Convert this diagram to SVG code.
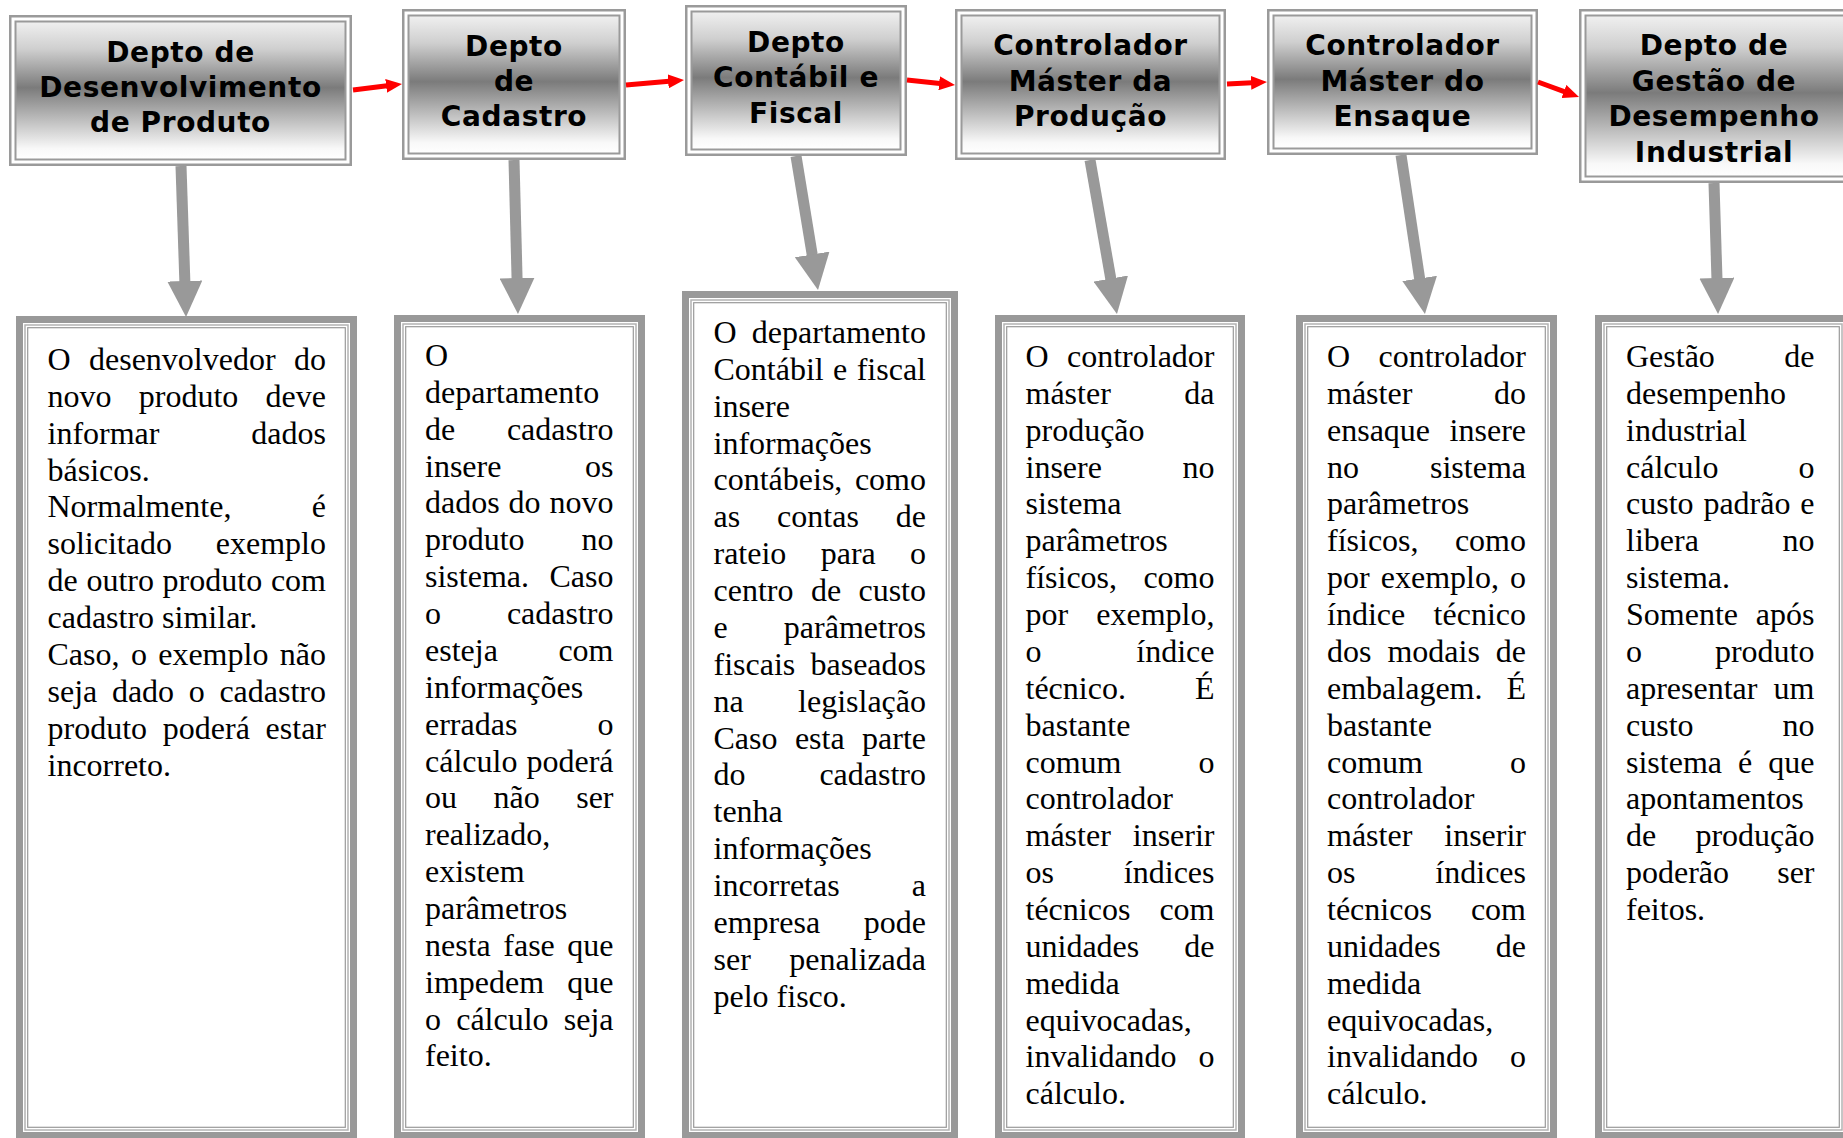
<svg xmlns="http://www.w3.org/2000/svg" width="1843" height="1138" viewBox="0 0 1843 1138">
  <defs>
    <linearGradient id="hdrFill" x1="0" y1="0" x2="0" y2="1">
      <stop offset="0" stop-color="#f0f0f0"/>
      <stop offset="0.2" stop-color="#cfcfcf"/>
      <stop offset="0.48" stop-color="#7b7b7b"/>
      <stop offset="0.75" stop-color="#c8c8c8"/>
      <stop offset="0.92" stop-color="#f8f8f8"/>
      <stop offset="1" stop-color="#ffffff"/>
    </linearGradient>
    <marker id="redHead" markerUnits="userSpaceOnUse" markerWidth="16" markerHeight="14" refX="1" refY="7" orient="auto" viewBox="0 0 16 14">
      <path d="M0,0 L16,7 L0,14 z" fill="#ff0000"/>
    </marker>
    <marker id="greyHead" markerUnits="userSpaceOnUse" markerWidth="36" markerHeight="35" refX="2" refY="17.5" orient="auto" viewBox="0 0 36 35">
      <path d="M0,0 L36,17.5 L0,35 z" fill="#999999"/>
    </marker>
  </defs>
  <style>
    .hOut { fill: #ffffff; stroke: #9a9a9a; stroke-width: 2.5; }
    .hIn { fill: url(#hdrFill); stroke: #9a9a9a; stroke-width: 2; }
    .hTxt { font-family: "DejaVu Sans", Verdana, sans-serif; font-weight: bold; font-size: 28px; letter-spacing: 0.6px; fill: #000; text-anchor: middle; }
    .bOut { fill: #ffffff; stroke: #999999; stroke-width: 7; }
    .bMid { fill: none; stroke: #b3b3b3; stroke-width: 1.5; }
    .bIn { fill: none; stroke: #999999; stroke-width: 1.2; }
    .body { font-family: "Liberation Serif", "Times New Roman", serif; font-size: 32px; fill: #000; }
    .e { text-anchor: end; }
    .red { stroke: #ff0000; stroke-width: 5; fill: none; marker-end: url(#redHead); }
    .grey { stroke: #999999; stroke-width: 11; fill: none; marker-end: url(#greyHead); }
  </style>
  <rect width="1843" height="1138" fill="#ffffff"/>

  <!-- department header boxes -->
  <g id="h1">
    <rect class="hOut" x="10.25" y="16.25" width="340.5" height="148.5"/>
    <rect class="hIn" x="15.5" y="21.5" width="330" height="138"/>
    <text class="hTxt" x="180.5" y="61.5">Depto de</text>
    <text class="hTxt" x="180.5" y="96.5">Desenvolvimento</text>
    <text class="hTxt" x="180.5" y="131.5">de Produto</text>
  </g>
  <g id="h2">
    <rect class="hOut" x="403.25" y="10.25" width="221.5" height="148.5"/>
    <rect class="hIn" x="408.5" y="15.5" width="211" height="138"/>
    <text class="hTxt" x="514" y="56">Depto</text>
    <text class="hTxt" x="514" y="91">de</text>
    <text class="hTxt" x="514" y="126">Cadastro</text>
  </g>
  <g id="h3">
    <rect class="hOut" x="686.25" y="6.25" width="219.5" height="148.5"/>
    <rect class="hIn" x="691.5" y="11.5" width="209" height="138"/>
    <text class="hTxt" x="796" y="51.5">Depto</text>
    <text class="hTxt" x="796" y="87">Contábil e</text>
    <text class="hTxt" x="796" y="122.5">Fiscal</text>
  </g>
  <g id="h4">
    <rect class="hOut" x="956.25" y="10.25" width="268.5" height="148.5"/>
    <rect class="hIn" x="961.5" y="15.5" width="258" height="138"/>
    <text class="hTxt" x="1090.5" y="55">Controlador</text>
    <text class="hTxt" x="1090.5" y="91">Máster da</text>
    <text class="hTxt" x="1090.5" y="126">Produção</text>
  </g>
  <g id="h5">
    <rect class="hOut" x="1268.25" y="10.25" width="268.5" height="143.5"/>
    <rect class="hIn" x="1273.5" y="15.5" width="258" height="133"/>
    <text class="hTxt" x="1402.5" y="55">Controlador</text>
    <text class="hTxt" x="1402.5" y="91">Máster do</text>
    <text class="hTxt" x="1402.5" y="126">Ensaque</text>
  </g>
  <g id="h6">
    <rect class="hOut" x="1580.25" y="10.25" width="269.5" height="171.5"/>
    <rect class="hIn" x="1585.5" y="15.5" width="259" height="161"/>
    <text class="hTxt" x="1714" y="55">Depto de</text>
    <text class="hTxt" x="1714" y="91">Gestão de</text>
    <text class="hTxt" x="1714" y="126">Desempenho</text>
    <text class="hTxt" x="1714" y="161.5">Industrial</text>
  </g>

  <!-- description boxes -->
  <g id="t1">
    <rect class="bOut" x="19.5" y="319.5" width="334" height="816"/>
    <rect class="bMid" x="25" y="325" width="323" height="805"/>
    <rect class="bIn" x="27.7" y="327.7" width="317.6" height="799.6"/>
    <g class="body">
      <text y="370"><tspan x="47.5">O</tspan><tspan x="89">desenvolvedor</tspan><tspan class="e" x="326">do</tspan></text>
      <text y="406.9"><tspan x="47.5">novo</tspan><tspan x="138.8">produto</tspan><tspan class="e" x="326">deve</tspan></text>
      <text y="443.7"><tspan x="47.5">informar</tspan><tspan class="e" x="326">dados</tspan></text>
      <text y="480.6"><tspan x="47.5">básicos.</tspan></text>
      <text y="517.4"><tspan x="47.5">Normalmente,</tspan><tspan class="e" x="326">é</tspan></text>
      <text y="554.3"><tspan x="47.5">solicitado</tspan><tspan class="e" x="326">exemplo</tspan></text>
      <text y="591.2"><tspan x="47.5">de</tspan><tspan x="86.4">outro</tspan><tspan x="162.6">produto</tspan><tspan class="e" x="326">com</tspan></text>
      <text y="628"><tspan x="47.5">cadastro similar.</tspan></text>
      <text y="664.9"><tspan x="47.5">Caso,</tspan><tspan x="130.9">o</tspan><tspan x="158.2">exemplo</tspan><tspan class="e" x="326">não</tspan></text>
      <text y="701.7"><tspan x="47.5">seja</tspan><tspan x="111.9">dado</tspan><tspan x="188.7">o</tspan><tspan class="e" x="326">cadastro</tspan></text>
      <text y="738.6"><tspan x="47.5">produto</tspan><tspan x="162.8">poderá</tspan><tspan class="e" x="326">estar</tspan></text>
      <text y="775.5"><tspan x="47.5">incorreto.</tspan></text>
    </g>
  </g>
  <g id="t2">
    <rect class="bOut" x="397.5" y="318.5" width="244" height="817"/>
    <rect class="bMid" x="403" y="324" width="233" height="806"/>
    <rect class="bIn" x="405.7" y="326.7" width="227.6" height="800.6"/>
    <g class="body">
      <text y="366"><tspan x="425">O</tspan></text>
      <text y="402.9"><tspan x="425">departamento</tspan></text>
      <text y="439.7"><tspan x="425">de</tspan><tspan class="e" x="613.5">cadastro</tspan></text>
      <text y="476.6"><tspan x="425">insere</tspan><tspan class="e" x="613.5">os</tspan></text>
      <text y="513.4"><tspan x="425">dados</tspan><tspan x="508.6">do</tspan><tspan class="e" x="613.5">novo</tspan></text>
      <text y="550.3"><tspan x="425">produto</tspan><tspan class="e" x="613.5">no</tspan></text>
      <text y="587.2"><tspan x="425">sistema.</tspan><tspan class="e" x="613.5">Caso</tspan></text>
      <text y="624"><tspan x="425">o</tspan><tspan class="e" x="613.5">cadastro</tspan></text>
      <text y="660.9"><tspan x="425">esteja</tspan><tspan class="e" x="613.5">com</tspan></text>
      <text y="697.7"><tspan x="425">informações</tspan></text>
      <text y="734.6"><tspan x="425">erradas</tspan><tspan class="e" x="613.5">o</tspan></text>
      <text y="771.5"><tspan x="425">cálculo</tspan><tspan class="e" x="613.5">poderá</tspan></text>
      <text y="808.3"><tspan x="425">ou</tspan><tspan x="493.5">não</tspan><tspan class="e" x="613.5">ser</tspan></text>
      <text y="845.2"><tspan x="425">realizado,</tspan></text>
      <text y="882"><tspan x="425">existem</tspan></text>
      <text y="918.9"><tspan x="425">parâmetros</tspan></text>
      <text y="955.8"><tspan x="425">nesta</tspan><tspan x="503.3">fase</tspan><tspan class="e" x="613.5">que</tspan></text>
      <text y="992.6"><tspan x="425">impedem</tspan><tspan class="e" x="613.5">que</tspan></text>
      <text y="1029.5"><tspan x="425">o</tspan><tspan x="456.2">cálculo</tspan><tspan class="e" x="613.5">seja</tspan></text>
      <text y="1066.3"><tspan x="425">feito.</tspan></text>
    </g>
  </g>
  <g id="t3">
    <rect class="bOut" x="685.5" y="294.5" width="269" height="841"/>
    <rect class="bMid" x="691" y="300" width="258" height="830"/>
    <rect class="bIn" x="693.7" y="302.7" width="252.6" height="824.6"/>
    <g class="body">
      <text y="343"><tspan x="713.5">O</tspan><tspan class="e" x="926">departamento</tspan></text>
      <text y="379.9"><tspan x="713.5">Contábil</tspan><tspan x="833.1">e</tspan><tspan class="e" x="926">fiscal</tspan></text>
      <text y="416.7"><tspan x="713.5">insere</tspan></text>
      <text y="453.6"><tspan x="713.5">informações</tspan></text>
      <text y="490.4"><tspan x="713.5">contábeis,</tspan><tspan class="e" x="926">como</tspan></text>
      <text y="527.3"><tspan x="713.5">as</tspan><tspan x="777.1">contas</tspan><tspan class="e" x="926">de</tspan></text>
      <text y="564.2"><tspan x="713.5">rateio</tspan><tspan x="820.7">para</tspan><tspan class="e" x="926">o</tspan></text>
      <text y="601"><tspan x="713.5">centro</tspan><tspan x="810.9">de</tspan><tspan class="e" x="926">custo</tspan></text>
      <text y="637.9"><tspan x="713.5">e</tspan><tspan class="e" x="926">parâmetros</tspan></text>
      <text y="674.7"><tspan x="713.5">fiscais</tspan><tspan class="e" x="926">baseados</tspan></text>
      <text y="711.6"><tspan x="713.5">na</tspan><tspan class="e" x="926">legislação</tspan></text>
      <text y="748.5"><tspan x="713.5">Caso</tspan><tspan x="794.9">esta</tspan><tspan class="e" x="926">parte</tspan></text>
      <text y="785.3"><tspan x="713.5">do</tspan><tspan class="e" x="926">cadastro</tspan></text>
      <text y="822.2"><tspan x="713.5">tenha</tspan></text>
      <text y="859"><tspan x="713.5">informações</tspan></text>
      <text y="895.9"><tspan x="713.5">incorretas</tspan><tspan class="e" x="926">a</tspan></text>
      <text y="932.8"><tspan x="713.5">empresa</tspan><tspan class="e" x="926">pode</tspan></text>
      <text y="969.6"><tspan x="713.5">ser</tspan><tspan class="e" x="926">penalizada</tspan></text>
      <text y="1006.5"><tspan x="713.5">pelo fisco.</tspan></text>
    </g>
  </g>
  <g id="t4">
    <rect class="bOut" x="998.5" y="318.5" width="243" height="817"/>
    <rect class="bMid" x="1004" y="324" width="232" height="806"/>
    <rect class="bIn" x="1006.7" y="326.7" width="226.6" height="800.6"/>
    <g class="body">
      <text y="367"><tspan x="1025.5">O</tspan><tspan class="e" x="1214.5">controlador</tspan></text>
      <text y="403.9"><tspan x="1025.5">máster</tspan><tspan class="e" x="1214.5">da</tspan></text>
      <text y="440.7"><tspan x="1025.5">produção</tspan></text>
      <text y="477.6"><tspan x="1025.5">insere</tspan><tspan class="e" x="1214.5">no</tspan></text>
      <text y="514.4"><tspan x="1025.5">sistema</tspan></text>
      <text y="551.3"><tspan x="1025.5">parâmetros</tspan></text>
      <text y="588.2"><tspan x="1025.5">físicos,</tspan><tspan class="e" x="1214.5">como</tspan></text>
      <text y="625"><tspan x="1025.5">por</tspan><tspan class="e" x="1214.5">exemplo,</tspan></text>
      <text y="661.9"><tspan x="1025.5">o</tspan><tspan class="e" x="1214.5">índice</tspan></text>
      <text y="698.7"><tspan x="1025.5">técnico.</tspan><tspan class="e" x="1214.5">É</tspan></text>
      <text y="735.6"><tspan x="1025.5">bastante</tspan></text>
      <text y="772.5"><tspan x="1025.5">comum</tspan><tspan class="e" x="1214.5">o</tspan></text>
      <text y="809.3"><tspan x="1025.5">controlador</tspan></text>
      <text y="846.2"><tspan x="1025.5">máster</tspan><tspan class="e" x="1214.5">inserir</tspan></text>
      <text y="883"><tspan x="1025.5">os</tspan><tspan class="e" x="1214.5">índices</tspan></text>
      <text y="919.9"><tspan x="1025.5">técnicos</tspan><tspan class="e" x="1214.5">com</tspan></text>
      <text y="956.8"><tspan x="1025.5">unidades</tspan><tspan class="e" x="1214.5">de</tspan></text>
      <text y="993.6"><tspan x="1025.5">medida</tspan></text>
      <text y="1030.5"><tspan x="1025.5">equivocadas,</tspan></text>
      <text y="1067.3"><tspan x="1025.5">invalidando</tspan><tspan class="e" x="1214.5">o</tspan></text>
      <text y="1104.2"><tspan x="1025.5">cálculo.</tspan></text>
    </g>
  </g>
  <g id="t5">
    <rect class="bOut" x="1299.5" y="318.5" width="254" height="817"/>
    <rect class="bMid" x="1305" y="324" width="243" height="806"/>
    <rect class="bIn" x="1307.7" y="326.7" width="237.6" height="800.6"/>
    <g class="body">
      <text y="367"><tspan x="1327">O</tspan><tspan class="e" x="1526">controlador</tspan></text>
      <text y="403.9"><tspan x="1327">máster</tspan><tspan class="e" x="1526">do</tspan></text>
      <text y="440.7"><tspan x="1327">ensaque</tspan><tspan class="e" x="1526">insere</tspan></text>
      <text y="477.6"><tspan x="1327">no</tspan><tspan class="e" x="1526">sistema</tspan></text>
      <text y="514.4"><tspan x="1327">parâmetros</tspan></text>
      <text y="551.3"><tspan x="1327">físicos,</tspan><tspan class="e" x="1526">como</tspan></text>
      <text y="588.2"><tspan x="1327">por</tspan><tspan x="1380.8">exemplo,</tspan><tspan class="e" x="1526">o</tspan></text>
      <text y="625"><tspan x="1327">índice</tspan><tspan class="e" x="1526">técnico</tspan></text>
      <text y="661.9"><tspan x="1327">dos</tspan><tspan x="1387.4">modais</tspan><tspan class="e" x="1526">de</tspan></text>
      <text y="698.7"><tspan x="1327">embalagem.</tspan><tspan class="e" x="1526">É</tspan></text>
      <text y="735.6"><tspan x="1327">bastante</tspan></text>
      <text y="772.5"><tspan x="1327">comum</tspan><tspan class="e" x="1526">o</tspan></text>
      <text y="809.3"><tspan x="1327">controlador</tspan></text>
      <text y="846.2"><tspan x="1327">máster</tspan><tspan class="e" x="1526">inserir</tspan></text>
      <text y="883"><tspan x="1327">os</tspan><tspan class="e" x="1526">índices</tspan></text>
      <text y="919.9"><tspan x="1327">técnicos</tspan><tspan class="e" x="1526">com</tspan></text>
      <text y="956.8"><tspan x="1327">unidades</tspan><tspan class="e" x="1526">de</tspan></text>
      <text y="993.6"><tspan x="1327">medida</tspan></text>
      <text y="1030.5"><tspan x="1327">equivocadas,</tspan></text>
      <text y="1067.3"><tspan x="1327">invalidando</tspan><tspan class="e" x="1526">o</tspan></text>
      <text y="1104.2"><tspan x="1327">cálculo.</tspan></text>
    </g>
  </g>
  <g id="t6">
    <rect class="bOut" x="1598.5" y="318.5" width="249" height="817"/>
    <rect class="bMid" x="1604" y="324" width="238" height="806"/>
    <rect class="bIn" x="1606.7" y="326.7" width="232.6" height="800.6"/>
    <g class="body">
      <text y="367"><tspan x="1626">Gestão</tspan><tspan class="e" x="1814.5">de</tspan></text>
      <text y="403.9"><tspan x="1626">desempenho</tspan></text>
      <text y="440.7"><tspan x="1626">industrial</tspan></text>
      <text y="477.6"><tspan x="1626">cálculo</tspan><tspan class="e" x="1814.5">o</tspan></text>
      <text y="514.4"><tspan x="1626">custo</tspan><tspan x="1703.4">padrão</tspan><tspan class="e" x="1814.5">e</tspan></text>
      <text y="551.3"><tspan x="1626">libera</tspan><tspan class="e" x="1814.5">no</tspan></text>
      <text y="588.2"><tspan x="1626">sistema.</tspan></text>
      <text y="625"><tspan x="1626">Somente</tspan><tspan class="e" x="1814.5">após</tspan></text>
      <text y="661.9"><tspan x="1626">o</tspan><tspan class="e" x="1814.5">produto</tspan></text>
      <text y="698.7"><tspan x="1626">apresentar</tspan><tspan class="e" x="1814.5">um</tspan></text>
      <text y="735.6"><tspan x="1626">custo</tspan><tspan class="e" x="1814.5">no</tspan></text>
      <text y="772.5"><tspan x="1626">sistema</tspan><tspan x="1738.1">é</tspan><tspan class="e" x="1814.5">que</tspan></text>
      <text y="809.3"><tspan x="1626">apontamentos</tspan></text>
      <text y="846.2"><tspan x="1626">de</tspan><tspan class="e" x="1814.5">produção</tspan></text>
      <text y="883"><tspan x="1626">poderão</tspan><tspan class="e" x="1814.5">ser</tspan></text>
      <text y="919.9"><tspan x="1626">feitos.</tspan></text>
    </g>
  </g>

  <!-- connectors: red flow between departments, grey links to descriptions -->
  <g id="connectors">
    <line class="red" x1="353" y1="90" x2="387.1" y2="85.8"/>
    <line class="red" x1="626" y1="85" x2="669.1" y2="81.3"/>
    <line class="red" x1="907" y1="80" x2="940.1" y2="83.4"/>
    <line class="red" x1="1227" y1="84" x2="1252" y2="82.75"/>
    <line class="red" x1="1538" y1="82" x2="1564.9" y2="91.85"/>
    <line class="grey" x1="181" y1="166" x2="184.9" y2="283"/>
    <line class="grey" x1="514" y1="160" x2="517.1" y2="280"/>
    <line class="grey" x1="796" y1="156" x2="812.5" y2="256.4"/>
    <line class="grey" x1="1090" y1="160" x2="1111.1" y2="280.5"/>
    <line class="grey" x1="1401" y1="155" x2="1419.9" y2="280.4"/>
    <line class="grey" x1="1714" y1="183" x2="1717" y2="280"/>
  </g>
</svg>
